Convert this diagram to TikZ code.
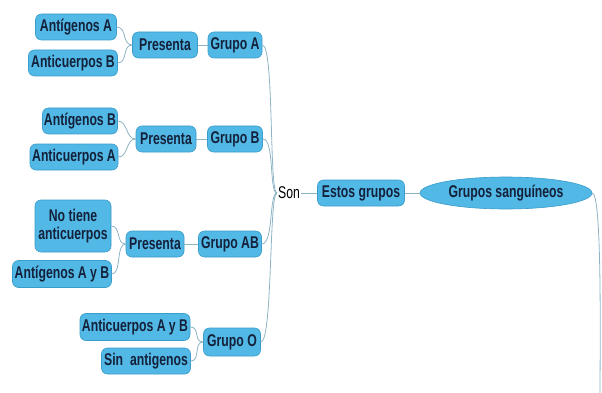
\documentclass[tikz,border=0pt]{standalone}
\usepackage{fontspec}
\setmainfont{Liberation Sans}[FakeStretch=0.72]
\usetikzlibrary{shapes.geometric}
\definecolor{nodefill}{HTML}{52B8E6}
\definecolor{nodeedge}{HTML}{3A9CC8}
\definecolor{txt}{HTML}{14213A}
\definecolor{conn}{HTML}{8DB4C4}
\tikzset{
  box/.style={draw=nodeedge, line width=0.6pt, fill=nodefill, rounded corners=6pt,
    text=txt, font=\fontsize{17}{18}\selectfont\bfseries, align=center,
    minimum height=26pt, inner sep=1pt},
  oval/.style={ellipse, draw=nodeedge, line width=0.6pt, fill=nodefill, text=txt,
    font=\fontsize{17}{18}\selectfont\bfseries, minimum width=172pt, minimum height=32pt, inner sep=0pt},
  plain/.style={text=black, font=\fontsize{17}{18}\selectfont, inner sep=1pt},
  conn/.style={draw=conn, line width=0.8pt},
}
\begin{document}
\begin{tikzpicture}[x=1pt,y=-1pt]
\useasboundingbox (0,0) rectangle (602,393);
% Grupo A
\node[box, minimum width=81pt] (agA) at (76,27) {Antígenos A};
\node[box, minimum width=89pt] (acB) at (73,63) {Anticuerpos B};
\node[box, minimum width=65pt] (pA) at (165,45) {Presenta};
\node[box, minimum width=54pt] (gA) at (235,45) {Grupo A};
% Grupo B
\node[box, minimum width=75pt] (agB) at (80,121) {Antígenos B};
\node[box, minimum width=88pt] (acA) at (74,157) {Anticuerpos A};
\node[box, minimum width=60pt] (pB) at (166,139) {Presenta};
\node[box, minimum width=55pt] (gB) at (235,139) {Grupo B};
% Grupo AB
\node[box, minimum width=76pt, minimum height=52pt] (nt) at (73,226) {No tiene\\anticuerpos};
\node[box, minimum width=99pt, minimum height=27pt] (agAB) at (62,274) {Antígenos A y B};
\node[box, minimum width=58pt] (pAB) at (155,244) {Presenta};
\node[box, minimum width=63pt] (gAB) at (230,244) {Grupo AB};
% Grupo O
\node[box, minimum width=110pt, minimum height=27pt] (acAB) at (135,327) {Anticuerpos A y B};
\node[box, minimum width=89pt] (sa) at (146,361) {Sin\ \ antigenos};
\node[box, minimum width=57pt, minimum height=28pt] (gO) at (232,342) {Grupo O};
% centre
\node[plain] (son) at (289,193) {Son};
\node[box, minimum width=87pt] (eg) at (361,193) {Estos grupos};
\node[oval] (gs) at (506,193) {Grupos sanguíneos};
\coordinate (down) at (600,393);
% connectors
\begin{scope}[conn]
\draw (pA.west) .. controls +(-10,0) and +(10,0) .. (agA.east);
\draw (pA.west) .. controls +(-10,0) and +(10,0) .. (acB.east);
\draw (pA) -- (gA);
\draw (pB.west) .. controls +(-10,0) and +(10,0) .. (agB.east);
\draw (pB.west) .. controls +(-10,0) and +(10,0) .. (acA.east);
\draw (pB) -- (gB);
\draw (pAB.west) .. controls +(-10,0) and +(10,0) .. (nt.east);
\draw (pAB.west) .. controls +(-10,0) and +(10,0) .. (agAB.east);
\draw (pAB) -- (gAB);
\draw (gO.west) .. controls +(-10,0) and +(10,0) .. (acAB.east);
\draw (gO.west) .. controls +(-10,0) and +(10,0) .. (sa.east);
\draw (gA.east) .. controls +(12,0) and +(-8,0) .. (son.west);
\draw (gB.east) .. controls +(12,0) and +(-8,0) .. (son.west);
\draw (gAB.east) .. controls +(12,0) and +(-8,0) .. (son.west);
\draw (gO.east) .. controls +(12,0) and +(-8,0) .. (son.west);
\draw (son) -- (eg);
\draw (eg) -- (gs);
\draw (gs.east) .. controls +(10,0) and +(0,-40) .. (down);
\end{scope}
\end{tikzpicture}
\end{document}
